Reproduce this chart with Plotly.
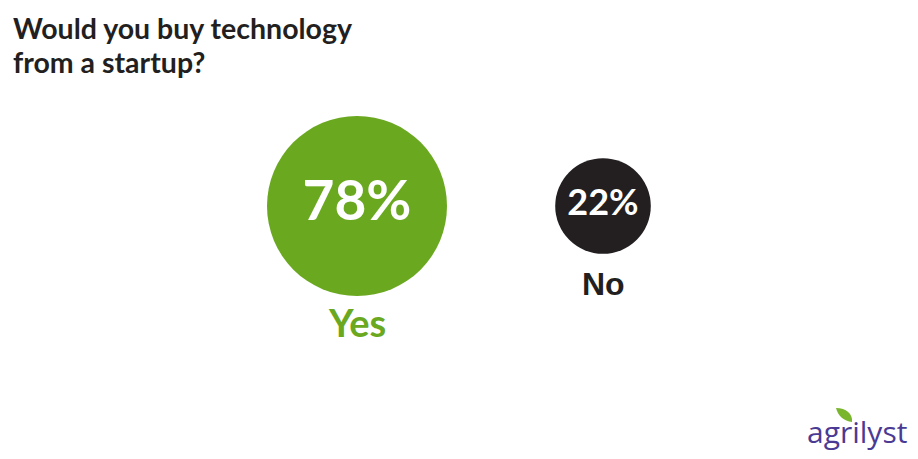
import plotly.graph_objects as go

# ---- data ----
categories = ["Yes", "No"]
values = [78, 22]
value_labels = ["78%", "22%"]
colors = ["#6aa820", "#231f20"]
label_colors = ["#6aa820", "#231f20"]
title_lines = ["Would you buy technology", "from a startup?"]
brand_text = "agrilyst"

W, H = 918, 459
max_radius_px = 90
sizeref = (max(values) / 2) / (max_radius_px ** 2)

def radius(v):
    return (v / 2 / sizeref) ** 0.5

def px(x, y):
    return x / W, 1 - y / H

fig = go.Figure()
fig.add_trace(go.Scatter(
    x=categories,
    y=[0] * len(values),
    mode="markers+text",
    marker=dict(size=values, sizemode="area", sizeref=sizeref,
                color=colors, opacity=1, line=dict(width=0)),
    text=value_labels,
    textposition="middle center",
    textfont=dict(family="Lato", color="white", size=[55, 36], weight=700),
    hoverinfo="skip",
    cliponaxis=False,
))

label_fonts = [dict(family="Lato", size=38, weight=700),
               dict(family="Liberation Sans", size=32, weight=700)]
label_gaps = [26, 30]
for cat, v, c, f, g in zip(categories, values, label_colors, label_fonts, label_gaps):
    fig.add_annotation(x=cat, y=0, xref="x", yref="y", text=cat, showarrow=False,
                       yshift=-(radius(v) + g), font=dict(color=c, **f),
                       xanchor="center", yanchor="middle")

# title (two lines, 34px apart)
for i, line in enumerate(title_lines):
    fig.add_annotation(x=px(11, 0)[0], y=px(0, 28 + 34 * i)[1], xref="paper", yref="paper",
                       text=line, showarrow=False, xanchor="left", yanchor="middle",
                       align="left",
                       font=dict(family="Lato", size=28.5, color="#231f20", weight=700))

# brand logo
fig.add_annotation(x=px(909, 0)[0], y=px(0, 431)[1], xref="paper", yref="paper",
                   text=brand_text, showarrow=False, xanchor="right", yanchor="middle",
                   font=dict(family="Open Sans", size=30, color="#4b3a94"))
leaf = [(836, 408), (846, 408), (853, 414), (852, 422), (844, 421), (838, 416)]
p = [px(a, b) for a, b in leaf]
path = (f"M {p[0][0]} {p[0][1]} C {p[1][0]} {p[1][1]}, {p[2][0]} {p[2][1]}, {p[3][0]} {p[3][1]} "
        f"C {p[4][0]} {p[4][1]}, {p[5][0]} {p[5][1]}, {p[0][0]} {p[0][1]} Z")
fig.add_shape(type="path", path=path, xref="paper", yref="paper",
              fillcolor="#79b52d", line=dict(width=0))

# axis scale: category 0 -> 357px, category 1 -> 603px
unit = 603 - 357
x0 = -357 / unit
x1 = 1 + (W - 603) / unit
yc = 206
frac = (H - yc) / H
fig.update_xaxes(range=[x0, x1], visible=False, fixedrange=True)
fig.update_yaxes(range=[-frac, 1 - frac], visible=False, fixedrange=True)

fig.update_layout(
    width=W, height=H,
    margin=dict(l=0, r=0, t=0, b=0),
    paper_bgcolor="white", plot_bgcolor="white",
    showlegend=False,
)

fig.write_html("out.html", config={"displayModeBar": False})
with open("out.html", "r", encoding="utf-8") as fh:
    html = fh.read()
html = html.replace("<head>", "<head><style>html,body{margin:0;padding:0;overflow:hidden;}</style>", 1)
with open("out.html", "w", encoding="utf-8") as fh:
    fh.write(html)
